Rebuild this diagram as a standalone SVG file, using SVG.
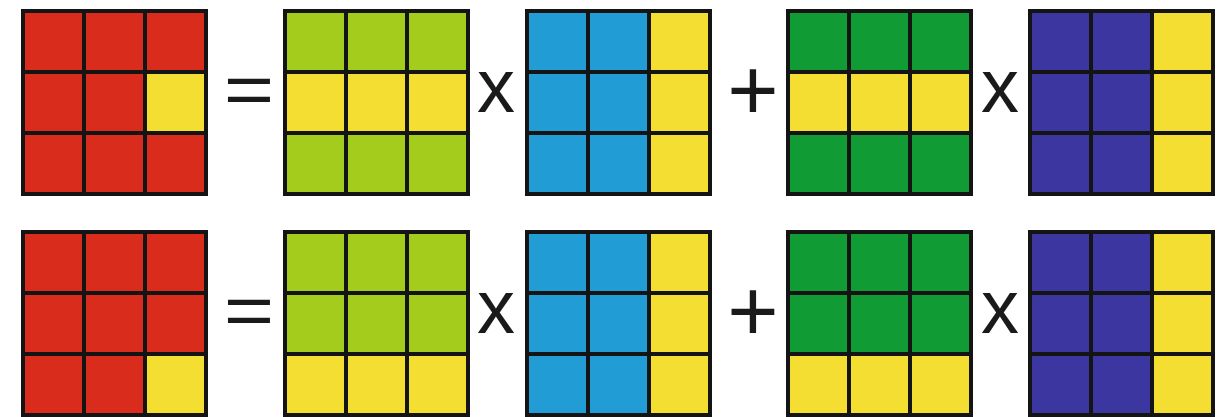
<svg xmlns="http://www.w3.org/2000/svg" width="1228" height="417" viewBox="0 0 1228 417">
<style>
.c{stroke:#141414;stroke-width:4}
.r{fill:#D92C1C}
.l{fill:#A4CC1C}
.y{fill:#F4DE32}
.b{fill:#229CD4}
.g{fill:#119B34}
.p{fill:#3B36A0}
.op{font-family:"Liberation Sans",Arial,sans-serif;fill:#1a1a1a;text-anchor:middle}
</style>
<rect width="1228" height="417" fill="#ffffff"/>
<g id="row1">
<g id="r1-result" transform="translate(23,11)">
<rect class="c r" x="0" y="0" width="61" height="61"/><rect class="c r" x="61" y="0" width="61" height="61"/><rect class="c r" x="122" y="0" width="61" height="61"/>
<rect class="c r" x="0" y="61" width="61" height="61"/><rect class="c r" x="61" y="61" width="61" height="61"/><rect class="c y" x="122" y="61" width="61" height="61"/>
<rect class="c r" x="0" y="122" width="61" height="61"/><rect class="c r" x="61" y="122" width="61" height="61"/><rect class="c r" x="122" y="122" width="61" height="61"/>
</g>
<g id="r1-a" transform="translate(285,11)">
<rect class="c l" x="0" y="0" width="61" height="61"/><rect class="c l" x="61" y="0" width="61" height="61"/><rect class="c l" x="122" y="0" width="61" height="61"/>
<rect class="c y" x="0" y="61" width="61" height="61"/><rect class="c y" x="61" y="61" width="61" height="61"/><rect class="c y" x="122" y="61" width="61" height="61"/>
<rect class="c l" x="0" y="122" width="61" height="61"/><rect class="c l" x="61" y="122" width="61" height="61"/><rect class="c l" x="122" y="122" width="61" height="61"/>
</g>
<g id="r1-b" transform="translate(527,11)">
<rect class="c b" x="0" y="0" width="61" height="61"/><rect class="c b" x="61" y="0" width="61" height="61"/><rect class="c y" x="122" y="0" width="61" height="61"/>
<rect class="c b" x="0" y="61" width="61" height="61"/><rect class="c b" x="61" y="61" width="61" height="61"/><rect class="c y" x="122" y="61" width="61" height="61"/>
<rect class="c b" x="0" y="122" width="61" height="61"/><rect class="c b" x="61" y="122" width="61" height="61"/><rect class="c y" x="122" y="122" width="61" height="61"/>
</g>
<g id="r1-c" transform="translate(788,11)">
<rect class="c g" x="0" y="0" width="61" height="61"/><rect class="c g" x="61" y="0" width="61" height="61"/><rect class="c g" x="122" y="0" width="61" height="61"/>
<rect class="c y" x="0" y="61" width="61" height="61"/><rect class="c y" x="61" y="61" width="61" height="61"/><rect class="c y" x="122" y="61" width="61" height="61"/>
<rect class="c g" x="0" y="122" width="61" height="61"/><rect class="c g" x="61" y="122" width="61" height="61"/><rect class="c g" x="122" y="122" width="61" height="61"/>
</g>
<g id="r1-d" transform="translate(1030,11)">
<rect class="c p" x="0" y="0" width="61" height="61"/><rect class="c p" x="61" y="0" width="61" height="61"/><rect class="c y" x="122" y="0" width="61" height="61"/>
<rect class="c p" x="0" y="61" width="61" height="61"/><rect class="c p" x="61" y="61" width="61" height="61"/><rect class="c y" x="122" y="61" width="61" height="61"/>
<rect class="c p" x="0" y="122" width="61" height="61"/><rect class="c p" x="61" y="122" width="61" height="61"/><rect class="c y" x="122" y="122" width="61" height="61"/>
</g>
<g id="r1-ops">
<text class="op" transform="translate(249,114) scale(1.2,1)" x="0" y="0" font-size="72">=</text>
<text class="op" x="496" y="112" font-size="76">x</text>
<text class="op" x="753" y="120" font-size="88">+</text>
<text class="op" x="1000" y="112" font-size="76">x</text>
</g>
</g>
<g id="row2">
<g id="r2-result" transform="translate(23,232)">
<rect class="c r" x="0" y="0" width="61" height="61"/><rect class="c r" x="61" y="0" width="61" height="61"/><rect class="c r" x="122" y="0" width="61" height="61"/>
<rect class="c r" x="0" y="61" width="61" height="61"/><rect class="c r" x="61" y="61" width="61" height="61"/><rect class="c r" x="122" y="61" width="61" height="61"/>
<rect class="c r" x="0" y="122" width="61" height="61"/><rect class="c r" x="61" y="122" width="61" height="61"/><rect class="c y" x="122" y="122" width="61" height="61"/>
</g>
<g id="r2-a" transform="translate(285,232)">
<rect class="c l" x="0" y="0" width="61" height="61"/><rect class="c l" x="61" y="0" width="61" height="61"/><rect class="c l" x="122" y="0" width="61" height="61"/>
<rect class="c l" x="0" y="61" width="61" height="61"/><rect class="c l" x="61" y="61" width="61" height="61"/><rect class="c l" x="122" y="61" width="61" height="61"/>
<rect class="c y" x="0" y="122" width="61" height="61"/><rect class="c y" x="61" y="122" width="61" height="61"/><rect class="c y" x="122" y="122" width="61" height="61"/>
</g>
<g id="r2-b" transform="translate(527,232)">
<rect class="c b" x="0" y="0" width="61" height="61"/><rect class="c b" x="61" y="0" width="61" height="61"/><rect class="c y" x="122" y="0" width="61" height="61"/>
<rect class="c b" x="0" y="61" width="61" height="61"/><rect class="c b" x="61" y="61" width="61" height="61"/><rect class="c y" x="122" y="61" width="61" height="61"/>
<rect class="c b" x="0" y="122" width="61" height="61"/><rect class="c b" x="61" y="122" width="61" height="61"/><rect class="c y" x="122" y="122" width="61" height="61"/>
</g>
<g id="r2-c" transform="translate(788,232)">
<rect class="c g" x="0" y="0" width="61" height="61"/><rect class="c g" x="61" y="0" width="61" height="61"/><rect class="c g" x="122" y="0" width="61" height="61"/>
<rect class="c g" x="0" y="61" width="61" height="61"/><rect class="c g" x="61" y="61" width="61" height="61"/><rect class="c g" x="122" y="61" width="61" height="61"/>
<rect class="c y" x="0" y="122" width="61" height="61"/><rect class="c y" x="61" y="122" width="61" height="61"/><rect class="c y" x="122" y="122" width="61" height="61"/>
</g>
<g id="r2-d" transform="translate(1030,232)">
<rect class="c p" x="0" y="0" width="61" height="61"/><rect class="c p" x="61" y="0" width="61" height="61"/><rect class="c y" x="122" y="0" width="61" height="61"/>
<rect class="c p" x="0" y="61" width="61" height="61"/><rect class="c p" x="61" y="61" width="61" height="61"/><rect class="c y" x="122" y="61" width="61" height="61"/>
<rect class="c p" x="0" y="122" width="61" height="61"/><rect class="c p" x="61" y="122" width="61" height="61"/><rect class="c y" x="122" y="122" width="61" height="61"/>
</g>
<g id="r2-ops">
<text class="op" transform="translate(249,335) scale(1.2,1)" x="0" y="0" font-size="72">=</text>
<text class="op" x="496" y="333" font-size="76">x</text>
<text class="op" x="753" y="341" font-size="88">+</text>
<text class="op" x="1000" y="333" font-size="76">x</text>
</g>
</g>
</svg>
